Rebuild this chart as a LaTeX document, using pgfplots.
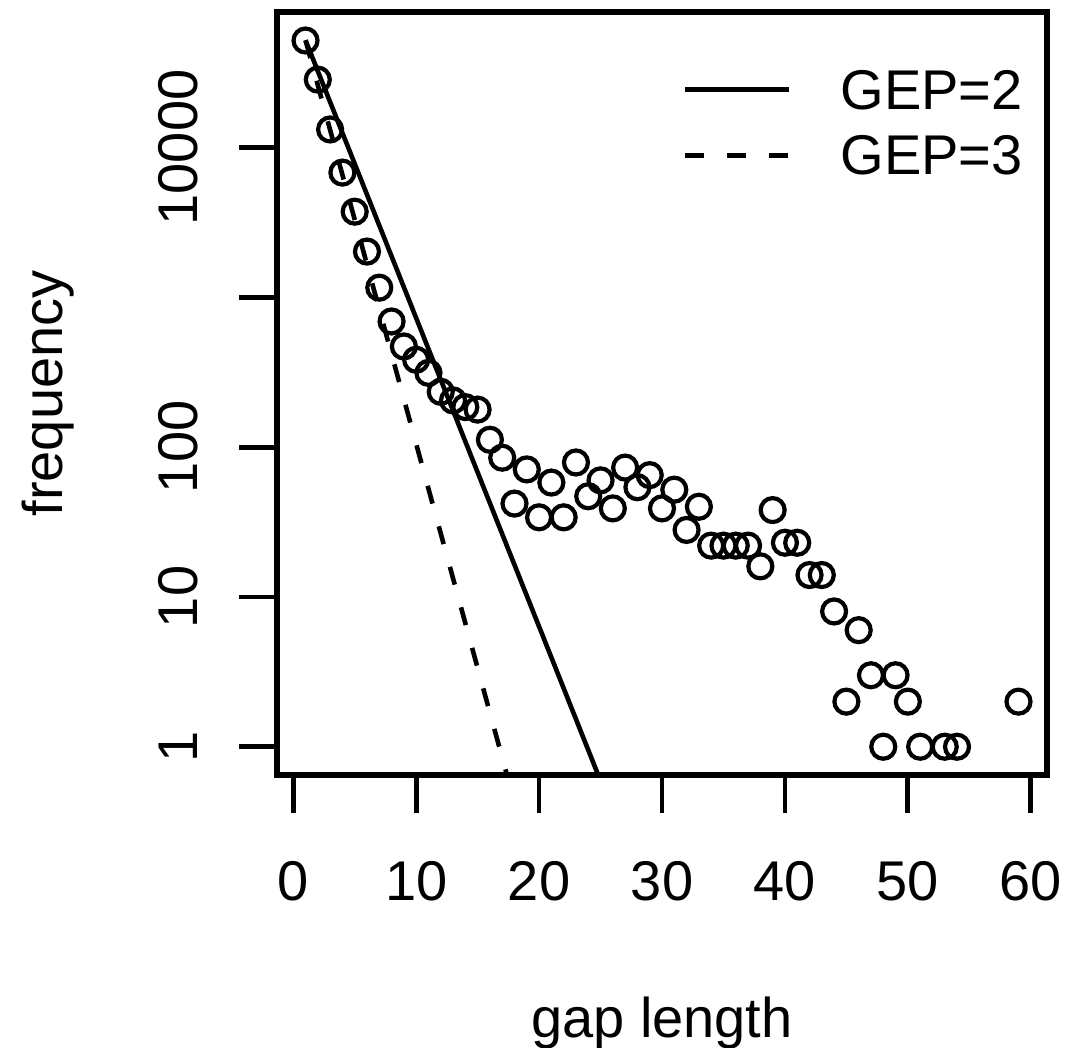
\documentclass[border=0pt]{standalone}
\usepackage{fontspec}
\setmainfont{Liberation Sans}
\usepackage{pgfplots}
\pgfplotsset{compat=1.18}
\begin{document}
\begin{tikzpicture}[font=\fontsize{14pt}{16.8pt}\selectfont]
\begin{axis}[
  at={(0pt,0pt)}, anchor=south west,
  scale only axis, width=192.5pt, height=190.75pt,
  xmin=-1.32, xmax=61.32,
  ymode=log, ymin=0.6476, ymax=80280,
  clip mode=individual,
  axis line style={line width=1.35pt},
  tick style={draw=none},
  minor tick num=0,
  xtick={0,10,20,30,40,50,60},
  xticklabels={0,10,20,30,40,50,60},
  ytick={1,10,100,1000,10000},
  yticklabels={1,10,100,{},10000},
  xtick pos=bottom, ytick pos=left,
  xticklabel style={anchor=base},
  xticklabel shift=31.25pt,
  yticklabel style={rotate=90, anchor=base},
  yticklabel shift=19.75pt,
  xlabel={gap length}, ylabel={frequency},
  xlabel style={at={(axis description cs:0.5,-0.3434)}, anchor=base},
  ylabel style={at={(axis description cs:-0.2792,0.5)}, anchor=base},
  legend style={at={(axis description cs:0.5273,0.924)}, anchor=north west,
    draw=none, fill=none, inner sep=0pt, outer sep=0pt, row sep=6.65pt,
    nodes={inner sep=0pt, outer sep=0pt, text depth=0pt},
    /tikz/every odd column/.append style={column sep=12.25pt}},
  legend cell align=left,
  legend image code/.code={\draw[#1] (0pt,0pt) -- (26pt,0pt);},
]
\addplot[only marks, mark=o, mark size=3pt, line width=1.05pt, mark options={line width=1.05pt}, forget plot] table {
x y
1 51800
2 28400
3 13200
4 6800
5 3730
6 2020
7 1160
8 690
9 470
10 383
11 313
12 234
13 205
14 185
15 178
16 112
17 85
18 42
19 71
20 34
21 58
22 34
23 79
24 47
25 60
26 39
27 73
28 54
29 65
30 39
31 52
32 28
33 40
34 22
35 22
36 22
37 22
38 16
39 38
40 23
41 23
42 14
43 14
44 8
45 2
46 6
47 3
48 1
49 3
50 2
51 1
53 1
54 1
59 2
};
\addplot[line width=1.15pt, no marks] coordinates {
(1,52000) (5,7798) (10,727.8) (15,67.9) (20,6.34) (25,0.5916) (26,0.368)
};
\addlegendentry{GEP=2}
\addplot[line width=1.15pt, no marks, dash pattern=on 4.6pt off 5.9pt] coordinates {
(1,52000) (5,3304) (10,105.2) (15,3.357) (18,0.4246)
};
\addlegendentry{GEP=3}
\pgfplotsinvokeforeach{0,10,20,30,40,50,60}{\draw[line width=1.2pt] (axis cs:#1,0.6476) -- ++(0pt,-9.5pt);}
\pgfplotsinvokeforeach{1,10,100,1000,10000}{\draw[line width=1.2pt] (axis cs:-1.32,#1) -- ++(-9.5pt,0pt);}
\end{axis}
\pgfresetboundingbox
\path[use as bounding box] (-69.25pt,-68pt) rectangle (200.25pt,193.75pt);
\end{tikzpicture}
\end{document}
